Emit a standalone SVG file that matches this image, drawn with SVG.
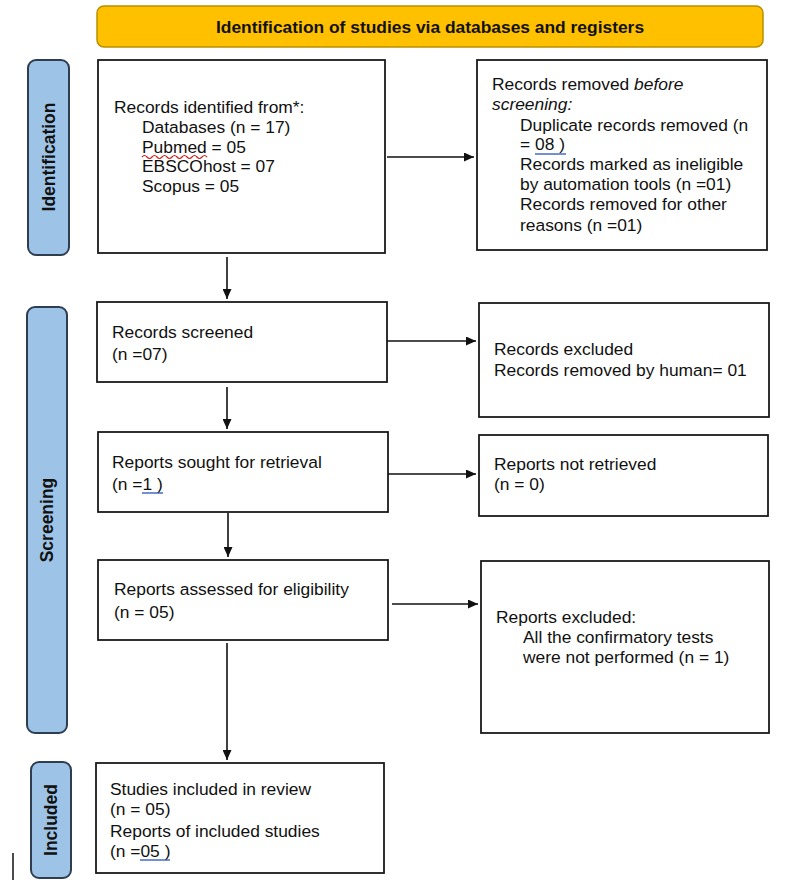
<svg xmlns="http://www.w3.org/2000/svg" width="790" height="883" viewBox="0 0 790 883">
<defs>
<style>
.box{fill:#fff;stroke:#1a1a1a;stroke-width:1.8}
.pill{fill:#9dc3e6;stroke:#2e3e50;stroke-width:2}
.t{font-family:"Liberation Sans",Arial,sans-serif;font-size:17.4px;fill:#111}
.pt{font-family:"Liberation Sans",Arial,sans-serif;font-size:17.5px;font-weight:bold;fill:#111}
.c{stroke:#111;stroke-width:1.6;fill:none;marker-end:url(#ah)}
.ul{stroke:#2a52be;stroke-width:1.3;fill:none}
</style>
<marker id="ah" viewBox="0 0 10 10" refX="10" refY="5" markerWidth="10" markerHeight="9" markerUnits="userSpaceOnUse" orient="auto" preserveAspectRatio="none">
<path d="M0,0 L10,5 L0,10 z" fill="#111"/>
</marker>
</defs>
<rect width="790" height="883" fill="#fff"/>
<g id="banner">
<rect x="97" y="6" width="666" height="41" rx="7" fill="#ffc000" stroke="#b89000" stroke-width="1.5"/>
<text class="t" x="430" y="33" text-anchor="middle" font-weight="bold">Identification of studies via databases and registers</text>
</g>
<g id="phase-identification">
<rect class="pill" x="28" y="60" width="41" height="195" rx="8"/>
<text class="pt" transform="translate(55,157) rotate(-90)" text-anchor="middle">Identification</text>
</g>
<g id="phase-screening">
<rect class="pill" x="27" y="307" width="40" height="426" rx="8"/>
<text class="pt" transform="translate(53,520) rotate(-90)" text-anchor="middle">Screening</text>
</g>
<g id="phase-included">
<rect class="pill" x="31" y="762" width="40" height="116" rx="8"/>
<text class="pt" transform="translate(57,820) rotate(-90)" text-anchor="middle">Included</text>
</g>
<g id="records-identified">
<rect class="box" x="98" y="60" width="287" height="193"/>
<text class="t" x="114" y="113">Records identified from*:</text>
<text class="t" x="142" y="133">Databases (n = 17)</text>
<text class="t" x="142" y="153">Pubmed = 05</text>
<text class="t" x="142" y="172">EBSCOhost = 07</text>
<text class="t" x="142" y="192">Scopus = 05</text>
<path d="M142,157 q2.5,-3 5,0 t5,0 t5,0 t5,0 t5,0 t5,0 t5,0 t5,0 t5,0 t5,0 t5,0 t5,0 t5,0" stroke="#d02020" stroke-width="1.2" fill="none"/>
</g>
<g id="records-removed">
<rect class="box" x="477" y="60" width="290" height="190"/>
<text class="t" x="492" y="90">Records removed <tspan font-style="italic">before</tspan></text>
<text class="t" x="492" y="110" font-style="italic">screening:</text>
<text class="t" x="520" y="131">Duplicate records removed (n</text>
<text class="t" x="520" y="150">= 08 )</text>
<line class="ul" x1="535" y1="154" x2="566" y2="154"/>
<text class="t" x="520" y="170">Records marked as ineligible</text>
<text class="t" x="520" y="190">by automation tools (n =01)</text>
<text class="t" x="520" y="210">Records removed for other</text>
<text class="t" x="520" y="231">reasons (n =01)</text>
</g>
<g id="records-screened">
<rect class="box" x="97" y="302" width="290" height="80"/>
<text class="t" x="112" y="338">Records screened</text>
<text class="t" x="112" y="360">(n =07)</text>
</g>
<g id="records-excluded">
<rect class="box" x="479" y="303" width="290" height="114"/>
<text class="t" x="494" y="355">Records excluded</text>
<text class="t" x="494" y="376">Records removed by human= 01</text>
</g>
<g id="reports-sought">
<rect class="box" x="98" y="432" width="290" height="80"/>
<text class="t" x="112" y="468">Reports sought for retrieval</text>
<text class="t" x="112" y="490">(n =1 )</text>
<line class="ul" x1="142" y1="493" x2="163" y2="493"/>
</g>
<g id="reports-not-retrieved">
<rect class="box" x="479" y="435" width="289" height="81"/>
<text class="t" x="494" y="470">Reports not retrieved</text>
<text class="t" x="494" y="490">(n = 0)</text>
</g>
<g id="reports-assessed">
<rect class="box" x="98" y="560" width="290" height="80"/>
<text class="t" x="114" y="595">Reports assessed for eligibility</text>
<text class="t" x="114" y="618">(n = 05)</text>
</g>
<g id="reports-excluded">
<rect class="box" x="481" y="561" width="288" height="172"/>
<text class="t" x="496" y="623">Reports excluded:</text>
<text class="t" x="523" y="643">All the confirmatory tests</text>
<text class="t" x="523" y="663">were not performed (n = 1)</text>
</g>
<g id="studies-included">
<rect class="box" x="96" y="763" width="288" height="110"/>
<text class="t" x="110" y="795">Studies included in review</text>
<text class="t" x="110" y="815">(n = 05)</text>
<text class="t" x="110" y="837">Reports of included studies</text>
<text class="t" x="110" y="857">(n =05 )</text>
<line class="ul" x1="140" y1="860" x2="170" y2="860"/>
</g>
<g id="connectors">
<line class="c" x1="227" y1="257" x2="227" y2="299"/>
<line class="c" x1="387" y1="157" x2="474" y2="157"/>
<line class="c" x1="227" y1="387" x2="227" y2="429"/>
<line class="c" x1="387" y1="341" x2="476" y2="341"/>
<line class="c" x1="228" y1="513" x2="228" y2="557"/>
<line class="c" x1="388" y1="474" x2="476" y2="474"/>
<line class="c" x1="227" y1="643" x2="227" y2="760"/>
<line class="c" x1="392" y1="604" x2="478" y2="604"/>
</g>
<line x1="13" y1="853" x2="13" y2="880" stroke="#111" stroke-width="1.5"/>
</svg>
